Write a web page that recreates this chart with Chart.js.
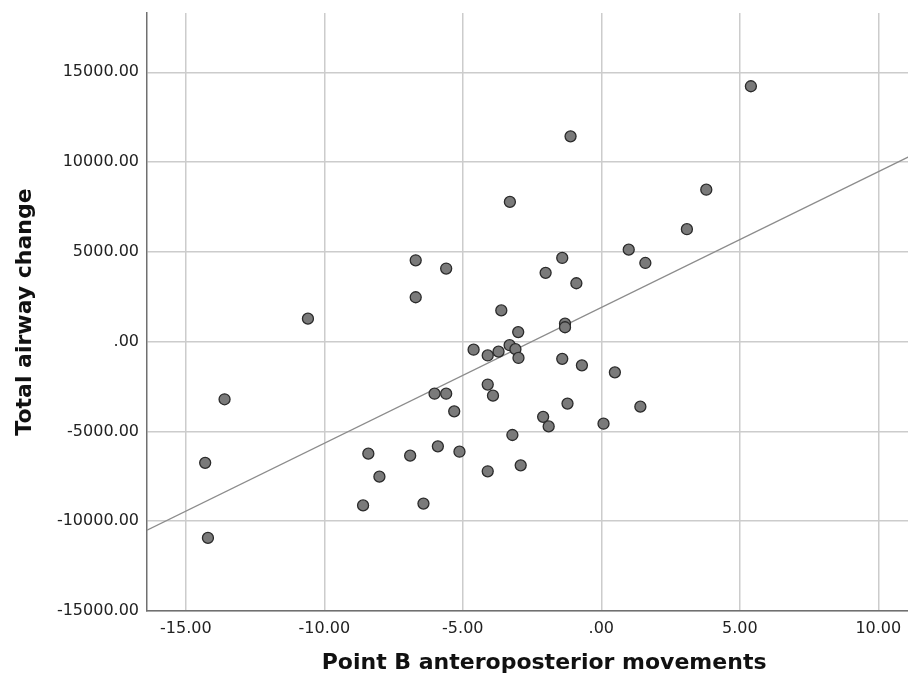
<!DOCTYPE html>
<html lang="en">
<head>
    <meta charset="UTF-8">
    <title>Total airway change vs Point B</title>
    <script src="https://cdn.jsdelivr.net/npm/chart.js"></script>
    <style>
        html, body { margin: 0; padding: 0; background: #fff; overflow: hidden; }
        /* plot area of the original runs past the right edge of the picture */
        .wrap { width: 948px; height: 683px; }
    </style>
</head>
<body>
    <div class="wrap">
        <canvas id="scatter" width="948" height="683"></canvas>
    </div>

    <script>
        // Point B anteroposterior movements (x) / Total airway change (y)
        const pointB = [5.40, -1.11, -3.30, 3.79, 3.09, 0.99, 1.59, -1.41, -2.01, -0.90,
            -6.70, -5.60, -6.70, -10.59, -3.61, -1.31, -1.31, -3.00, -3.31, -3.10,
            -2.99, -4.61, -4.10, -3.71, -1.41, -0.70, 0.49, -4.10, -3.91, -6.02,
            -5.60, -5.31, -13.60, -1.22, 1.41, -2.10, -1.90, 0.08, -3.21, -5.90,
            -8.41, -6.90, -5.12, -14.30, -2.91, -4.10, -8.01, -8.60, -6.42, -14.20];
        const airwayChange = [14220, 11430, 7780, 8460, 6260, 5120, 4380, 4660, 3830, 3250,
            4530, 4070, 2470, 1280, 1740, 1000, 800, 530, -200, -420,
            -910, -450, -770, -560, -960, -1320, -1710, -2390, -3010, -2900,
            -2900, -3880, -3210, -3450, -3620, -4190, -4720, -4570, -5200, -5830,
            -6240, -6350, -6130, -6750, -6890, -7220, -7520, -9120, -9020, -10930];

        // fitted line, read at the plot edges
        const fitX = [-16.4, 12.27];
        const fitY = [-10500, 11180];

        const xTickValues = [-15, -10, -5, 0, 5, 10];
        const xTickLabels = ['-15.00', '-10.00', '-5.00', '.00', '5.00', '10.00'];
        const yTickValues = [-15000, -10000, -5000, 0, 5000, 10000, 15000];
        const yTickLabels = ['-15000.00', '-10000.00', '-5000.00', '.00', '5000.00', '10000.00', '15000.00'];

        const points = pointB.map((x, i) => ({ x: x, y: airwayChange[i] }));
        const fit = fitX.map((x, i) => ({ x: x, y: fitY[i] }));

        const tickFont = { family: 'DejaVu Sans', size: 16 };
        const titleFont = { family: 'DejaVu Sans', size: 22, weight: 'bold' };

        new Chart(document.getElementById('scatter'), {
            type: 'scatter',
            data: {
                datasets: [
                    {
                        label: 'Fit',
                        data: fit,
                        showLine: true,
                        borderColor: '#8c8c8c',
                        borderWidth: 1.3,
                        pointRadius: 0,
                        order: 2
                    },
                    {
                        label: 'Cases',
                        data: points,
                        pointRadius: 5.5,
                        pointBackgroundColor: '#7a7a7a',
                        pointBorderColor: '#2b2b2b',
                        pointBorderWidth: 1.3,
                        order: 1
                    }
                ]
            },
            options: {
                responsive: false,
                animation: false,
                layout: { padding: { top: 13, right: 0, left: 0, bottom: 0 } },
                plugins: {
                    legend: { display: false },
                    tooltip: { enabled: false }
                },
                scales: {
                    x: {
                        type: 'linear',
                        min: -16.4,
                        max: 12.27,
                        afterBuildTicks: (scale) => {
                            scale.ticks = xTickValues.map(v => ({ value: v }));
                        },
                        afterFit: (scale) => {
                            scale.height = 72;
                            scale.paddingLeft = 0;
                            scale.paddingRight = 0;
                        },
                        ticks: {
                            font: tickFont,
                            color: '#222',
                            padding: 8,
                            maxRotation: 0,
                            callback: (value, index) => xTickLabels[index]
                        },
                        grid: { color: '#cccccc', lineWidth: 1.5, drawTicks: false },
                        border: { color: '#707070', width: 1.5 },
                        title: {
                            display: true,
                            text: 'Point B anteroposterior movements',
                            font: titleFont,
                            color: '#111',
                            padding: { top: 0, bottom: 7 }
                        }
                    },
                    y: {
                        type: 'linear',
                        min: -15000,
                        max: 18300,
                        afterBuildTicks: (scale) => {
                            scale.ticks = yTickValues.map(v => ({ value: v }));
                        },
                        afterFit: (scale) => {
                            scale.width = 147;
                            scale.paddingTop = 0;
                            scale.paddingBottom = 0;
                        },
                        ticks: {
                            font: tickFont,
                            color: '#222',
                            padding: 8,
                            callback: (value, index) => yTickLabels[index]
                        },
                        grid: { color: '#cccccc', lineWidth: 1.5, drawTicks: false },
                        border: { color: '#707070', width: 1.5 },
                        title: {
                            display: true,
                            text: 'Total airway change',
                            font: titleFont,
                            color: '#111',
                            padding: { top: 12, bottom: 0 }
                        }
                    }
                }
            }
        });
    </script>
</body>
</html>
